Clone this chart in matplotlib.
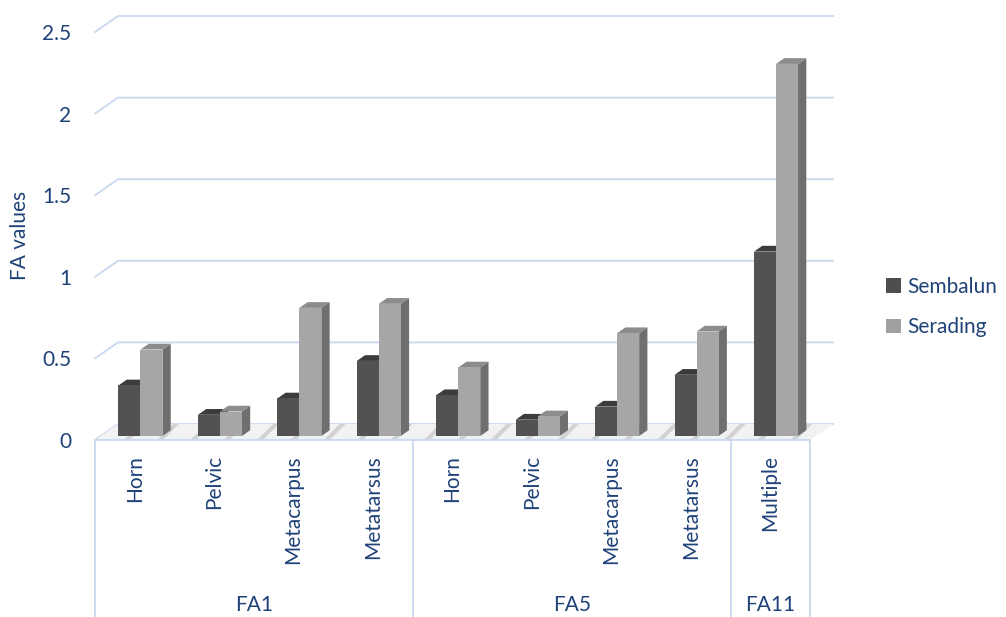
import matplotlib.pyplot as plt
import numpy as np
from matplotlib.patches import Polygon, Patch

categories = ["Horn", "Pelvic", "Metacarpus", "Metatarsus",
              "Horn", "Pelvic", "Metacarpus", "Metatarsus", "Multiple"]
groups = ["FA1", "FA5", "FA11"]
group_sizes = [4, 4, 1]
sembalun = [0.31, 0.13, 0.23, 0.46, 0.25, 0.10, 0.18, 0.375, 1.13]
serading = [0.53, 0.15, 0.785, 0.81, 0.42, 0.12, 0.63, 0.64, 2.28]
yticks = [0, 0.5, 1, 1.5, 2, 2.5]
ytick_labels = ["0", "0.5", "1", "1.5", "2", "2.5"]

plt.rcParams["font.family"] = ["Lato", "DejaVu Sans"]
plt.rcParams["hatch.linewidth"] = 3
text_color = "#1f4278"
grid_color = "#c9d8ee"

W, H = 1006, 617
fig = plt.figure(figsize=(W / 100, H / 100), dpi=100)
# front plane of the plot: x 95..810 px, y 0 at 440 px, 2.5 at 32 px
ax = fig.add_axes([95 / W, (H - 440) / H, 715 / W, 408 / H])
ax.set_xlim(-0.5, 8.5)
ax.set_ylim(0, 2.5)
for s in ax.spines.values():
    s.set_visible(False)
ax.set_xticks([])
ax.set_yticks(yticks)
ax.set_yticklabels(ytick_labels, fontsize=15, color=text_color)
ax.tick_params(axis="y", length=0, pad=17)

px_x = 715 / 9.0      # px per category
px_y = 408 / 2.5      # px per value unit
dx = 23 / px_x        # depth of the 3d box
dy = 16 / px_y

# back wall gridlines with diagonal start
for v in yticks:
    ax.plot([-0.5, -0.5 + dx, 8.5 + dx], [v, v + dy, v + dy],
            color=grid_color, lw=1.3, clip_on=False, zorder=1)

# floor
floor = Polygon([(-0.5, 0), (8.5, 0), (8.5 + dx, dy), (-0.5 + dx, dy)],
                closed=True, facecolor="#f2f2f2", edgecolor="#d2d2d2",
                hatch="/", lw=0, clip_on=False, zorder=2)
ax.add_patch(floor)

# category axis lines
ax.plot([-0.5, 8.5], [0, 0], color=grid_color, lw=1.3, clip_on=False, zorder=3)
bottom_v = -177 / px_y
edges = np.concatenate([[0], np.cumsum(group_sizes)]) - 0.5
for e in edges:
    ax.plot([e, e], [0, bottom_v], color=grid_color, lw=1.3, clip_on=False, zorder=3)

# 3d bars
w = 22 / px_x
ox, oy = 0.25 * dx, 0.25 * dy
bx, by = 0.36 * dx, 0.36 * dy
x = np.arange(len(categories))
series = [
    (sembalun, x - w, "#525252", "#3c3c3c", "#383838", "Sembalun"),
    (serading, x, "#a6a6a6", "#8c8c8c", "#6f6f6f", "Serading"),
]
for vals, lefts, front, top, side, name in series:
    for l, v in zip(lefts, vals):
        x0, x1 = l + ox, l + ox + w
        ax.add_patch(Polygon([(x1, oy), (x1 + bx, oy + by), (x1 + bx, v + oy + by), (x1, v + oy)],
                             closed=True, facecolor=side, lw=0, clip_on=False, zorder=4))
        ax.add_patch(Polygon([(x0, v + oy), (x1, v + oy), (x1 + bx, v + oy + by), (x0 + bx, v + oy + by)],
                             closed=True, facecolor=top, lw=0, clip_on=False, zorder=4))
    ax.bar(lefts + ox, vals, width=w, bottom=oy, align="edge", color=front,
           lw=0, clip_on=False, zorder=5)

# category labels
for i, c in enumerate(categories):
    ax.text(i, -15 / px_y, c, rotation=90, ha="center", va="top",
            fontsize=15, color=text_color)
for g, a, b in zip(groups, edges[:-1], edges[1:]):
    ax.text((a + b) / 2, -165 / px_y, g, ha="center", va="center",
            fontsize=15, color=text_color)

fig.text(20 / W, 1 - 235 / H, "FA values", rotation=90, ha="center", va="center",
         fontsize=15, color=text_color)

handles = [Patch(facecolor="#4e4e4e", label="Sembalun"),
           Patch(facecolor="#a0a0a0", label="Serading")]
leg = ax.legend(handles=handles, loc="center left", bbox_to_anchor=(886 / W, 1 - 307 / H),
                bbox_transform=fig.transFigure, frameon=False, fontsize=15,
                handlelength=0.7, handleheight=0.7, handletextpad=0.3,
                labelspacing=1.0, borderpad=0, borderaxespad=0)
for t in leg.get_texts():
    t.set_color(text_color)

fig.savefig("out.png", dpi=100)
